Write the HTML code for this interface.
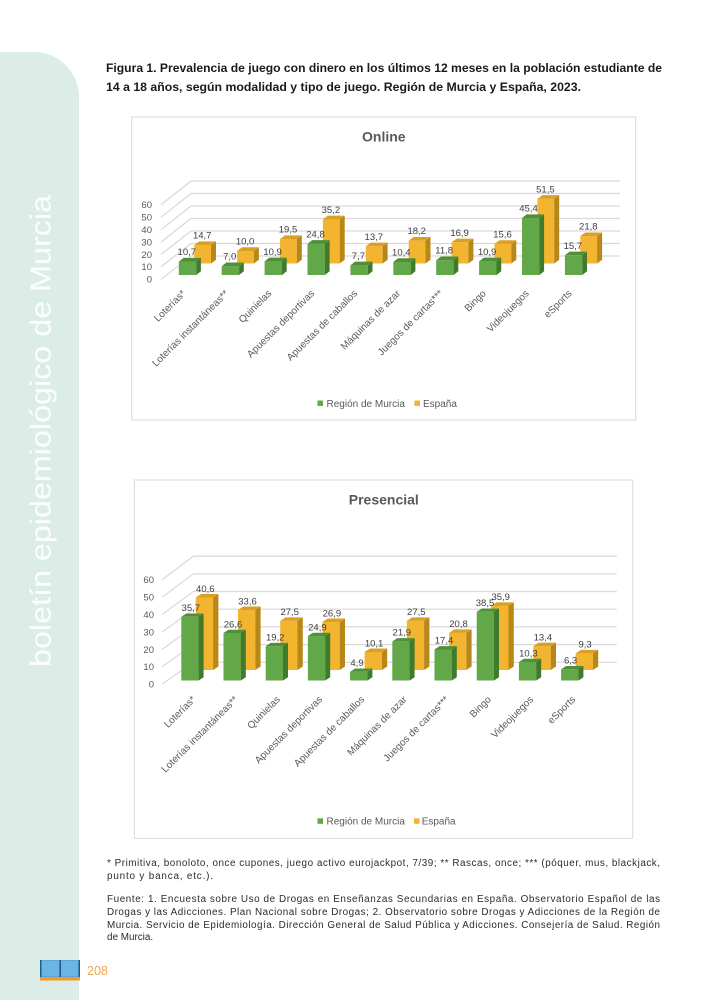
<!DOCTYPE html>
<html><head><meta charset="utf-8"><style>
html,body{margin:0;padding:0;background:#fff;}
svg{display:block;font-family:"Liberation Sans",sans-serif;}
</style></head><body>
<svg width="707" height="1000" viewBox="0 0 707 1000" xmlns="http://www.w3.org/2000/svg">
<rect width="707" height="1000" fill="#fff"/>
<!-- sidebar -->
<path d="M0,52 H34 A45,45 0 0 1 79,97 V1000 H0 Z" fill="#dcede8"/>
<text transform="translate(50.5,667) rotate(-90)" font-size="29" fill="#fff" fill-opacity="0.9" textLength="472" lengthAdjust="spacingAndGlyphs">boletín epidemiológico de Murcia</text>
<!-- page number -->
<rect x="40" y="960" width="40" height="17" fill="#5aa6d6"/>
<rect x="41" y="961" width="18" height="15" fill="#6bb5e2"/>
<rect x="61" y="961" width="17" height="15" fill="#6bb5e2"/>
<rect x="40" y="960" width="1.5" height="17" fill="#1f5c8a"/>
<rect x="59.5" y="960" width="1.5" height="17" fill="#1f5c8a"/>
<rect x="78.5" y="960" width="1.5" height="17" fill="#1f5c8a"/>
<rect x="40" y="977" width="40" height="3.5" fill="#f39a2e"/>
<text x="87" y="975" font-size="12.5" fill="#f2a54a">208</text>

<!-- title -->
<text x="106" y="72" font-size="12" font-weight="bold" fill="#1a1a1a" textLength="556" lengthAdjust="spacingAndGlyphs">Figura 1. Prevalencia de juego con dinero en los últimos 12 meses en la población estudiante de</text>
<text x="106" y="91" font-size="12" font-weight="bold" fill="#1a1a1a" textLength="475" lengthAdjust="spacingAndGlyphs">14 a 18 años, según modalidad y tipo de juego. Región de Murcia y España, 2023.</text>

<!-- ================= CHART 1 ================= -->
<rect x="131.7" y="117" width="504" height="303" fill="#fff" stroke="#d9d9d9" stroke-width="1"/>
<text x="383.8" y="141.7" font-size="14" font-weight="bold" fill="#595959" text-anchor="middle">Online</text>
<g stroke="#d9d9d9" stroke-width="1.2" fill="none">
<line x1="191" y1="256" x2="620" y2="256"/>
<line x1="191" y1="243.5" x2="620" y2="243.5"/>
<line x1="191" y1="231" x2="620" y2="231"/>
<line x1="191" y1="218.5" x2="620" y2="218.5"/>
<line x1="191" y1="206" x2="620" y2="206"/>
<line x1="191" y1="193.5" x2="620" y2="193.5"/>
<line x1="191" y1="181" x2="620" y2="181"/>
<line x1="161" y1="279.3" x2="191" y2="256"/>
<line x1="161" y1="266.9" x2="191" y2="243.5"/>
<line x1="161" y1="254.5" x2="191" y2="231"/>
<line x1="161" y1="242.1" x2="191" y2="218.5"/>
<line x1="161" y1="229.7" x2="191" y2="206"/>
<line x1="161" y1="217.3" x2="191" y2="193.5"/>
<line x1="161" y1="204.9" x2="191" y2="181"/>
</g>
<g font-size="9.5" fill="#595959" text-anchor="end">
<text x="152" y="208.2">60</text>
<text x="152" y="220.6">50</text>
<text x="152" y="233">40</text>
<text x="152" y="245.4">30</text>
<text x="152" y="257.8">20</text>
<text x="152" y="270.2">10</text>
<text x="152" y="282.6">0</text>
</g>
<!-- orange chart1 -->
<g>
<g transform="translate(194.2,263.5)"><rect x="0" y="-18.45" width="16.8" height="18.45" fill="#f3b42f"/><polygon points="16.8,-18.45 21.8,-22.15 21.8,-3.7 16.8,0" fill="#b98717"/><polygon points="0,-18.45 5,-22.15 21.8,-22.15 16.8,-18.45" fill="#d9a026"/></g>
<g transform="translate(237.1,263.5)"><rect x="0" y="-12.55" width="16.8" height="12.55" fill="#f3b42f"/><polygon points="16.8,-12.55 21.8,-16.25 21.8,-3.7 16.8,0" fill="#b98717"/><polygon points="0,-12.55 5,-16.25 21.8,-16.25 16.8,-12.55" fill="#d9a026"/></g>
<g transform="translate(280,263.5)"><rect x="0" y="-24.47" width="16.8" height="24.47" fill="#f3b42f"/><polygon points="16.8,-24.47 21.8,-28.17 21.8,-3.7 16.8,0" fill="#b98717"/><polygon points="0,-24.47 5,-28.17 21.8,-28.17 16.8,-24.47" fill="#d9a026"/></g>
<g transform="translate(322.9,263.5)"><rect x="0" y="-44.18" width="16.8" height="44.18" fill="#f3b42f"/><polygon points="16.8,-44.18 21.8,-47.88 21.8,-3.7 16.8,0" fill="#b98717"/><polygon points="0,-44.18 5,-47.88 21.8,-47.88 16.8,-44.18" fill="#d9a026"/></g>
<g transform="translate(365.8,263.5)"><rect x="0" y="-17.19" width="16.8" height="17.19" fill="#f3b42f"/><polygon points="16.8,-17.19 21.8,-20.89 21.8,-3.7 16.8,0" fill="#b98717"/><polygon points="0,-17.19 5,-20.89 21.8,-20.89 16.8,-17.19" fill="#d9a026"/></g>
<g transform="translate(408.7,263.5)"><rect x="0" y="-22.84" width="16.8" height="22.84" fill="#f3b42f"/><polygon points="16.8,-22.84 21.8,-26.54 21.8,-3.7 16.8,0" fill="#b98717"/><polygon points="0,-22.84 5,-26.54 21.8,-26.54 16.8,-22.84" fill="#d9a026"/></g>
<g transform="translate(451.6,263.5)"><rect x="0" y="-21.21" width="16.8" height="21.21" fill="#f3b42f"/><polygon points="16.8,-21.21 21.8,-24.91 21.8,-3.7 16.8,0" fill="#b98717"/><polygon points="0,-21.21 5,-24.91 21.8,-24.91 16.8,-21.21" fill="#d9a026"/></g>
<g transform="translate(494.5,263.5)"><rect x="0" y="-19.58" width="16.8" height="19.58" fill="#f3b42f"/><polygon points="16.8,-19.58 21.8,-23.28 21.8,-3.7 16.8,0" fill="#b98717"/><polygon points="0,-19.58 5,-23.28 21.8,-23.28 16.8,-19.58" fill="#d9a026"/></g>
<g transform="translate(537.4,263.5)"><rect x="0" y="-64.63" width="16.8" height="64.63" fill="#f3b42f"/><polygon points="16.8,-64.63 21.8,-68.33 21.8,-3.7 16.8,0" fill="#b98717"/><polygon points="0,-64.63 5,-68.33 21.8,-68.33 16.8,-64.63" fill="#d9a026"/></g>
<g transform="translate(580.3,263.5)"><rect x="0" y="-27.36" width="16.8" height="27.36" fill="#f3b42f"/><polygon points="16.8,-27.36 21.8,-31.06 21.8,-3.7 16.8,0" fill="#b98717"/><polygon points="0,-27.36 5,-31.06 21.8,-31.06 16.8,-27.36" fill="#d9a026"/></g>
</g>
<!-- green chart1 -->
<g>
<g transform="translate(178.8,275)"><rect x="0" y="-13.43" width="17.4" height="13.43" fill="#62a748"/><polygon points="17.4,-13.43 22.1,-17.13 22.1,-3.7 17.4,0" fill="#3f7a2d"/><polygon points="0,-13.43 4.7,-17.13 22.1,-17.13 17.4,-13.43" fill="#4f8f3a"/></g>
<g transform="translate(221.7,275)"><rect x="0" y="-8.79" width="17.4" height="8.79" fill="#62a748"/><polygon points="17.4,-8.79 22.1,-12.49 22.1,-3.7 17.4,0" fill="#3f7a2d"/><polygon points="0,-8.79 4.7,-12.49 22.1,-12.49 17.4,-8.79" fill="#4f8f3a"/></g>
<g transform="translate(264.6,275)"><rect x="0" y="-13.68" width="17.4" height="13.68" fill="#62a748"/><polygon points="17.4,-13.68 22.1,-17.38 22.1,-3.7 17.4,0" fill="#3f7a2d"/><polygon points="0,-13.68 4.7,-17.38 22.1,-17.38 17.4,-13.68" fill="#4f8f3a"/></g>
<g transform="translate(307.5,275)"><rect x="0" y="-31.12" width="17.4" height="31.12" fill="#62a748"/><polygon points="17.4,-31.12 22.1,-34.82 22.1,-3.7 17.4,0" fill="#3f7a2d"/><polygon points="0,-31.12 4.7,-34.82 22.1,-34.82 17.4,-31.12" fill="#4f8f3a"/></g>
<g transform="translate(350.4,275)"><rect x="0" y="-9.66" width="17.4" height="9.66" fill="#62a748"/><polygon points="17.4,-9.66 22.1,-13.36 22.1,-3.7 17.4,0" fill="#3f7a2d"/><polygon points="0,-9.66 4.7,-13.36 22.1,-13.36 17.4,-9.66" fill="#4f8f3a"/></g>
<g transform="translate(393.3,275)"><rect x="0" y="-13.05" width="17.4" height="13.05" fill="#62a748"/><polygon points="17.4,-13.05 22.1,-16.75 22.1,-3.7 17.4,0" fill="#3f7a2d"/><polygon points="0,-13.05 4.7,-16.75 22.1,-16.75 17.4,-13.05" fill="#4f8f3a"/></g>
<g transform="translate(436.2,275)"><rect x="0" y="-14.81" width="17.4" height="14.81" fill="#62a748"/><polygon points="17.4,-14.81 22.1,-18.51 22.1,-3.7 17.4,0" fill="#3f7a2d"/><polygon points="0,-14.81 4.7,-18.51 22.1,-18.51 17.4,-14.81" fill="#4f8f3a"/></g>
<g transform="translate(479.1,275)"><rect x="0" y="-13.68" width="17.4" height="13.68" fill="#62a748"/><polygon points="17.4,-13.68 22.1,-17.38 22.1,-3.7 17.4,0" fill="#3f7a2d"/><polygon points="0,-13.68 4.7,-17.38 22.1,-17.38 17.4,-13.68" fill="#4f8f3a"/></g>
<g transform="translate(522,275)"><rect x="0" y="-56.98" width="17.4" height="56.98" fill="#62a748"/><polygon points="17.4,-56.98 22.1,-60.68 22.1,-3.7 17.4,0" fill="#3f7a2d"/><polygon points="0,-56.98 4.7,-60.68 22.1,-60.68 17.4,-56.98" fill="#4f8f3a"/></g>
<g transform="translate(564.9,275)"><rect x="0" y="-19.7" width="17.4" height="19.7" fill="#62a748"/><polygon points="17.4,-19.7 22.1,-23.4 22.1,-3.7 17.4,0" fill="#3f7a2d"/><polygon points="0,-19.7 4.7,-23.4 22.1,-23.4 17.4,-19.7" fill="#4f8f3a"/></g>
</g>
<g font-size="9.5" fill="#404040" text-anchor="middle">
<text x="202.2" y="238.6">14,7</text>
<text x="245.1" y="244.5">10,0</text>
<text x="288" y="232.5">19,5</text>
<text x="330.9" y="212.8">35,2</text>
<text x="373.8" y="239.8">13,7</text>
<text x="416.7" y="234.2">18,2</text>
<text x="459.6" y="235.8">16,9</text>
<text x="502.5" y="237.4">15,6</text>
<text x="545.4" y="192.4">51,5</text>
<text x="588.3" y="229.6">21,8</text>
<text x="186.8" y="255.1">10,7</text>
<text x="229.7" y="259.7">7,0</text>
<text x="272.6" y="254.8">10,9</text>
<text x="315.5" y="237.4">24,8</text>
<text x="358.4" y="258.8">7,7</text>
<text x="401.3" y="255.5">10,4</text>
<text x="444.2" y="253.7">11,8</text>
<text x="487.1" y="254.8">10,9</text>
<text x="528.5" y="211.5">45,4</text>
<text x="572.9" y="248.8">15,7</text>
</g>
<g font-size="10" fill="#595959" text-anchor="end">
<text x="186.3" y="294" transform="rotate(-45 186.3 294)">Loterías*</text>
<text x="229.2" y="294" transform="rotate(-45 229.2 294)">Loterías instantáneas**</text>
<text x="272.1" y="294" transform="rotate(-45 272.1 294)">Quinielas</text>
<text x="315" y="294" transform="rotate(-45 315 294)">Apuestas deportivas</text>
<text x="357.9" y="294" transform="rotate(-45 357.9 294)">Apuestas de caballos</text>
<text x="400.8" y="294" transform="rotate(-45 400.8 294)">Máquinas de azar</text>
<text x="443.7" y="294" transform="rotate(-45 443.7 294)">Juegos de cartas***</text>
<text x="486.6" y="294" transform="rotate(-45 486.6 294)">Bingo</text>
<text x="529.5" y="294" transform="rotate(-45 529.5 294)">Videojuegos</text>
<text x="572.4" y="294" transform="rotate(-45 572.4 294)">eSports</text>
</g>
<rect x="317.5" y="400.5" width="5.5" height="5.5" fill="#62a748"/>
<text x="326.5" y="406.8" font-size="10" fill="#595959">Región de Murcia</text>
<rect x="414.5" y="400.5" width="5.5" height="5.5" fill="#f3b42f"/>
<text x="423" y="406.8" font-size="10" fill="#595959">España</text>

<!-- ================= CHART 2 ================= -->
<rect x="134.3" y="480" width="498.4" height="358.3" fill="#fff" stroke="#d9d9d9" stroke-width="1"/>
<text x="383.8" y="504.3" font-size="14" font-weight="bold" fill="#595959" text-anchor="middle">Presencial</text>
<g stroke="#d9d9d9" stroke-width="1.2" fill="none">
<line x1="193.3" y1="662.3" x2="616.7" y2="662.3"/>
<line x1="193.3" y1="644.6" x2="616.7" y2="644.6"/>
<line x1="193.3" y1="626.9" x2="616.7" y2="626.9"/>
<line x1="193.3" y1="609.2" x2="616.7" y2="609.2"/>
<line x1="193.3" y1="591.5" x2="616.7" y2="591.5"/>
<line x1="193.3" y1="573.8" x2="616.7" y2="573.8"/>
<line x1="193.3" y1="556.1" x2="616.7" y2="556.1"/>
<line x1="162" y1="684.3" x2="193.3" y2="662.3"/>
<line x1="162" y1="666.9" x2="193.3" y2="644.6"/>
<line x1="162" y1="649.5" x2="193.3" y2="626.9"/>
<line x1="162" y1="632.1" x2="193.3" y2="609.2"/>
<line x1="162" y1="614.7" x2="193.3" y2="591.5"/>
<line x1="162" y1="597.3" x2="193.3" y2="573.8"/>
<line x1="162" y1="579.9" x2="193.3" y2="556.1"/>
</g>
<g font-size="9.5" fill="#595959" text-anchor="end">
<text x="154" y="583.2">60</text>
<text x="154" y="600.6">50</text>
<text x="154" y="618">40</text>
<text x="154" y="635.4">30</text>
<text x="154" y="652.8">20</text>
<text x="154" y="670.2">10</text>
<text x="154" y="687.6">0</text>
</g>
<!-- orange chart2 -->
<g>
<g transform="translate(195.8,670)"><rect x="0" y="-72.47" width="17.3" height="72.47" fill="#f3b42f"/><polygon points="17.3,-72.47 22.6,-75.97 22.6,-3.5 17.3,0" fill="#b98717"/><polygon points="0,-72.47 5.3,-75.97 22.6,-75.97 17.3,-72.47" fill="#d9a026"/></g>
<g transform="translate(238,670)"><rect x="0" y="-59.98" width="17.3" height="59.98" fill="#f3b42f"/><polygon points="17.3,-59.98 22.6,-63.48 22.6,-3.5 17.3,0" fill="#b98717"/><polygon points="0,-59.98 5.3,-63.48 22.6,-63.48 17.3,-59.98" fill="#d9a026"/></g>
<g transform="translate(280.2,670)"><rect x="0" y="-49.09" width="17.3" height="49.09" fill="#f3b42f"/><polygon points="17.3,-49.09 22.6,-52.59 22.6,-3.5 17.3,0" fill="#b98717"/><polygon points="0,-49.09 5.3,-52.59 22.6,-52.59 17.3,-49.09" fill="#d9a026"/></g>
<g transform="translate(322.4,670)"><rect x="0" y="-48.02" width="17.3" height="48.02" fill="#f3b42f"/><polygon points="17.3,-48.02 22.6,-51.52 22.6,-3.5 17.3,0" fill="#b98717"/><polygon points="0,-48.02 5.3,-51.52 22.6,-51.52 17.3,-48.02" fill="#d9a026"/></g>
<g transform="translate(364.6,670)"><rect x="0" y="-18.03" width="17.3" height="18.03" fill="#f3b42f"/><polygon points="17.3,-18.03 22.6,-21.53 22.6,-3.5 17.3,0" fill="#b98717"/><polygon points="0,-18.03 5.3,-21.53 22.6,-21.53 17.3,-18.03" fill="#d9a026"/></g>
<g transform="translate(406.8,670)"><rect x="0" y="-49.09" width="17.3" height="49.09" fill="#f3b42f"/><polygon points="17.3,-49.09 22.6,-52.59 22.6,-3.5 17.3,0" fill="#b98717"/><polygon points="0,-49.09 5.3,-52.59 22.6,-52.59 17.3,-49.09" fill="#d9a026"/></g>
<g transform="translate(449,670)"><rect x="0" y="-37.13" width="17.3" height="37.13" fill="#f3b42f"/><polygon points="17.3,-37.13 22.6,-40.63 22.6,-3.5 17.3,0" fill="#b98717"/><polygon points="0,-37.13 5.3,-40.63 22.6,-40.63 17.3,-37.13" fill="#d9a026"/></g>
<g transform="translate(491.2,670)"><rect x="0" y="-64.08" width="17.3" height="64.08" fill="#f3b42f"/><polygon points="17.3,-64.08 22.6,-67.58 22.6,-3.5 17.3,0" fill="#b98717"/><polygon points="0,-64.08 5.3,-67.58 22.6,-67.58 17.3,-64.08" fill="#d9a026"/></g>
<g transform="translate(533.4,670)"><rect x="0" y="-23.92" width="17.3" height="23.92" fill="#f3b42f"/><polygon points="17.3,-23.92 22.6,-27.42 22.6,-3.5 17.3,0" fill="#b98717"/><polygon points="0,-23.92 5.3,-27.42 22.6,-27.42 17.3,-23.92" fill="#d9a026"/></g>
<g transform="translate(575.6,670)"><rect x="0" y="-16.6" width="17.3" height="16.6" fill="#f3b42f"/><polygon points="17.3,-16.6 22.6,-20.1 22.6,-3.5 17.3,0" fill="#b98717"/><polygon points="0,-16.6 5.3,-20.1 22.6,-20.1 17.3,-16.6" fill="#d9a026"/></g>
</g>
<!-- green chart2 -->
<g>
<g transform="translate(181.3,680.5)"><rect x="0" y="-63.72" width="17.3" height="63.72" fill="#62a748"/><polygon points="17.3,-63.72 22.3,-67.02 22.3,-3.3 17.3,0" fill="#3f7a2d"/><polygon points="0,-63.72 5,-67.02 22.3,-67.02 17.3,-63.72" fill="#4f8f3a"/></g>
<g transform="translate(223.5,680.5)"><rect x="0" y="-47.48" width="17.3" height="47.48" fill="#62a748"/><polygon points="17.3,-47.48 22.3,-50.78 22.3,-3.3 17.3,0" fill="#3f7a2d"/><polygon points="0,-47.48 5,-50.78 22.3,-50.78 17.3,-47.48" fill="#4f8f3a"/></g>
<g transform="translate(265.7,680.5)"><rect x="0" y="-34.27" width="17.3" height="34.27" fill="#62a748"/><polygon points="17.3,-34.27 22.3,-37.57 22.3,-3.3 17.3,0" fill="#3f7a2d"/><polygon points="0,-34.27 5,-37.57 22.3,-37.57 17.3,-34.27" fill="#4f8f3a"/></g>
<g transform="translate(307.9,680.5)"><rect x="0" y="-44.45" width="17.3" height="44.45" fill="#62a748"/><polygon points="17.3,-44.45 22.3,-47.75 22.3,-3.3 17.3,0" fill="#3f7a2d"/><polygon points="0,-44.45 5,-47.75 22.3,-47.75 17.3,-44.45" fill="#4f8f3a"/></g>
<g transform="translate(350.1,680.5)"><rect x="0" y="-8.75" width="17.3" height="8.75" fill="#62a748"/><polygon points="17.3,-8.75 22.3,-12.05 22.3,-3.3 17.3,0" fill="#3f7a2d"/><polygon points="0,-8.75 5,-12.05 22.3,-12.05 17.3,-8.75" fill="#4f8f3a"/></g>
<g transform="translate(392.3,680.5)"><rect x="0" y="-39.09" width="17.3" height="39.09" fill="#62a748"/><polygon points="17.3,-39.09 22.3,-42.39 22.3,-3.3 17.3,0" fill="#3f7a2d"/><polygon points="0,-39.09 5,-42.39 22.3,-42.39 17.3,-39.09" fill="#4f8f3a"/></g>
<g transform="translate(434.5,680.5)"><rect x="0" y="-31.06" width="17.3" height="31.06" fill="#62a748"/><polygon points="17.3,-31.06 22.3,-34.36 22.3,-3.3 17.3,0" fill="#3f7a2d"/><polygon points="0,-31.06 5,-34.36 22.3,-34.36 17.3,-31.06" fill="#4f8f3a"/></g>
<g transform="translate(476.7,680.5)"><rect x="0" y="-68.72" width="17.3" height="68.72" fill="#62a748"/><polygon points="17.3,-68.72 22.3,-72.02 22.3,-3.3 17.3,0" fill="#3f7a2d"/><polygon points="0,-68.72 5,-72.02 22.3,-72.02 17.3,-68.72" fill="#4f8f3a"/></g>
<g transform="translate(518.9,680.5)"><rect x="0" y="-18.39" width="17.3" height="18.39" fill="#62a748"/><polygon points="17.3,-18.39 22.3,-21.69 22.3,-3.3 17.3,0" fill="#3f7a2d"/><polygon points="0,-18.39 5,-21.69 22.3,-21.69 17.3,-18.39" fill="#4f8f3a"/></g>
<g transform="translate(561.1,680.5)"><rect x="0" y="-11.25" width="17.3" height="11.25" fill="#62a748"/><polygon points="17.3,-11.25 22.3,-14.55 22.3,-3.3 17.3,0" fill="#3f7a2d"/><polygon points="0,-11.25 5,-14.55 22.3,-14.55 17.3,-11.25" fill="#4f8f3a"/></g>
</g>
<g font-size="9.5" fill="#404040" text-anchor="middle">
<text x="205.3" y="591.8">40,6</text>
<text x="247.5" y="604.3">33,6</text>
<text x="289.7" y="615.2">27,5</text>
<text x="331.9" y="616.3">26,9</text>
<text x="374.1" y="646.3">10,1</text>
<text x="416.3" y="615.2">27,5</text>
<text x="458.5" y="627.2">20,8</text>
<text x="500.7" y="600.2">35,9</text>
<text x="542.9" y="640.4">13,4</text>
<text x="585.1" y="647.7">9,3</text>
<text x="190.8" y="611.1">35,7</text>
<text x="233" y="627.3">26,6</text>
<text x="275.2" y="640.5">19,2</text>
<text x="317.4" y="630.4">24,9</text>
<text x="357" y="666.1">4,9</text>
<text x="401.8" y="635.7">21,9</text>
<text x="444" y="643.7">17,4</text>
<text x="485" y="606.1">38,5</text>
<text x="528.4" y="656.4">10,3</text>
<text x="570.6" y="663.6">6,3</text>
</g>
<g font-size="10" fill="#595959" text-anchor="end">
<text x="196.3" y="700" transform="rotate(-45 196.3 700)">Loterías*</text>
<text x="238.5" y="700" transform="rotate(-45 238.5 700)">Loterías instantáneas**</text>
<text x="280.7" y="700" transform="rotate(-45 280.7 700)">Quinielas</text>
<text x="322.9" y="700" transform="rotate(-45 322.9 700)">Apuestas deportivas</text>
<text x="365.1" y="700" transform="rotate(-45 365.1 700)">Apuestas de caballos</text>
<text x="407.3" y="700" transform="rotate(-45 407.3 700)">Máquinas de azar</text>
<text x="449.5" y="700" transform="rotate(-45 449.5 700)">Juegos de cartas***</text>
<text x="491.7" y="700" transform="rotate(-45 491.7 700)">Bingo</text>
<text x="533.9" y="700" transform="rotate(-45 533.9 700)">Videojuegos</text>
<text x="576.1" y="700" transform="rotate(-45 576.1 700)">eSports</text>
</g>
<rect x="317.5" y="818.3" width="5.5" height="5.5" fill="#62a748"/>
<text x="326.5" y="824.5" font-size="10" fill="#595959">Región de Murcia</text>
<rect x="414" y="818.3" width="5.5" height="5.5" fill="#f3b42f"/>
<text x="421.7" y="824.5" font-size="10" fill="#595959">España</text>

<!-- footnotes -->
<g font-size="9.9" fill="#2b2b2b">
<text x="107" y="866" textLength="553">* Primitiva, bonoloto, once cupones, juego activo eurojackpot, 7/39; ** Rascas, once; *** (póquer, mus, blackjack,</text>
<text x="107" y="879" textLength="106">punto y banca, etc.).</text>
<text x="107" y="902" textLength="553">Fuente: 1. Encuesta sobre Uso de Drogas en Enseñanzas Secundarias en España. Observatorio Español de las</text>
<text x="107" y="915" textLength="553">Drogas y las Adicciones. Plan Nacional sobre Drogas; 2. Observatorio sobre Drogas y Adicciones de la Región de</text>
<text x="107" y="928" textLength="553">Murcia. Servicio de Epidemiología. Dirección General de Salud Pública y Adicciones. Consejería de Salud. Región</text>
<text x="107" y="940">de Murcia.</text>
</g>
</svg>
</body></html>
